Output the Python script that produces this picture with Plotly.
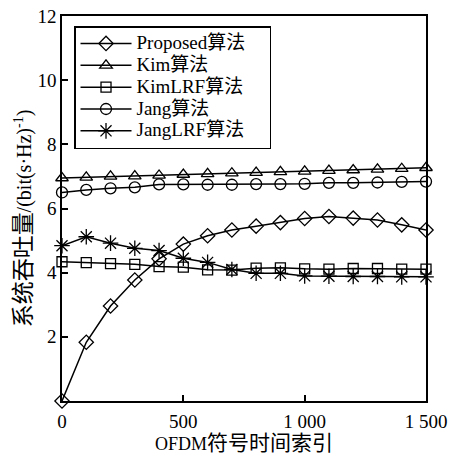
import plotly.graph_objects as go

x_vals = [0, 100, 200, 300, 400, 500, 600, 700, 800, 900, 1000, 1100, 1200, 1300, 1400, 1500]
proposed = [0.0, 1.83, 2.96, 3.77, 4.43, 4.89, 5.15, 5.33, 5.45, 5.56, 5.69, 5.75, 5.70, 5.64, 5.49, 5.33]
kim = [6.95, 6.97, 7.00, 7.01, 7.03, 7.06, 7.08, 7.10, 7.12, 7.14, 7.16, 7.18, 7.20, 7.22, 7.24, 7.27]
kimlrf = [4.34, 4.31, 4.28, 4.26, 4.19, 4.17, 4.09, 4.08, 4.14, 4.15, 4.12, 4.11, 4.13, 4.13, 4.11, 4.11]
jang = [6.50, 6.58, 6.63, 6.66, 6.75, 6.75, 6.74, 6.74, 6.76, 6.76, 6.77, 6.80, 6.80, 6.81, 6.83, 6.84]
janglrf = [4.84, 5.12, 4.92, 4.76, 4.69, 4.45, 4.32, 4.10, 3.98, 3.98, 3.90, 3.89, 3.88, 3.88, 3.87, 3.87]

names_latin = ["Proposed", "Kim", "KimLRF", "Jang", "JangLRF"]
name_suffix = "算法"
series = [proposed, kim, kimlrf, jang, janglrf]
symbols = ["diamond-open", "triangle-up-open", "square-open", "circle-open", "asterisk-open"]
sizes = [11, 11, 10, 11, 13]

x_tickvals = [0, 500, 1000, 1500]
x_ticktext = ["0", "500", "1 000", "1 500"]
y_tickvals = [2, 4, 6, 8, 10, 12]
y_ticktext = ["2", "4", "6", "8", "10", "12"]

x_title_latin = "OFDM"
x_title_cjk = "符号时间索引"
y_title_cjk = "系统吞吐量"
y_title_latin = "/(bit(s·Hz)<sup>-1</sup>)"

FONT = "Liberation Serif, Noto Sans CJK SC, serif"
# invisible filler glyphs used only to pad the legend box / shift the y title
PAD_LEGEND = '<span style="color:rgba(0,0,0,0)">算</span>'
PAD_YTITLE = '<span style="color:rgba(0,0,0,0)">算</span>'


def cjk(text, size):
    return f'<span style="font-size:{size}px">{text}</span>'


fig = go.Figure()
for i, (nm, ys, sym, sz) in enumerate(zip(names_latin, series, symbols, sizes)):
    label = nm + name_suffix + (PAD_LEGEND if i == 0 else "")
    fig.add_trace(go.Scatter(
        x=x_vals, y=ys, name=f'<span style="font-size:19px">{label}</span>',
        mode="lines+markers",
        line=dict(color="black", width=1.5),
        marker=dict(symbol=sym, size=sz, color="black",
                    line=dict(color="black", width=1.3)),
        cliponaxis=False,
    ))

fig.update_layout(
    width=449, height=455,
    margin=dict(l=62, r=23, t=16, b=54, autoexpand=False),
    paper_bgcolor="white", plot_bgcolor="white",
    font=dict(family=FONT, size=16, color="black"),
    showlegend=True,
    legend=dict(
        x=0.033, y=0.974, xanchor="left", yanchor="top",
        bordercolor="black", borderwidth=1.5, bgcolor="white",
        font=dict(family=FONT, size=14.5, color="black"),
        itemwidth=51, tracegroupgap=0,
    ),
    xaxis=dict(
        range=[0, 1500], tickvals=x_tickvals, ticktext=x_ticktext,
        ticks="inside", ticklen=6, tickwidth=1.5, tickcolor="black",
        showline=True, linecolor="black", linewidth=1.5, mirror=True,
        showgrid=False, zeroline=False, automargin=False,
        title=dict(text=x_title_latin + cjk(x_title_cjk, 21),
                   font=dict(family=FONT, size=18), standoff=4),
        tickfont=dict(family=FONT, size=19),
        ticklabelstandoff=2,
    ),
    yaxis=dict(
        range=[0, 12], tickvals=y_tickvals, ticktext=y_ticktext,
        ticks="inside", ticklen=6, tickwidth=1.5, tickcolor="black",
        showline=True, linecolor="black", linewidth=1.5, mirror=True,
        showgrid=False, zeroline=False, automargin=False,
        title=dict(text=cjk(y_title_cjk, 23) + y_title_latin + PAD_YTITLE,
                   font=dict(family=FONT, size=20), standoff=0),
        tickfont=dict(family=FONT, size=19),
    ),
)

fig.write_html("out.html")
